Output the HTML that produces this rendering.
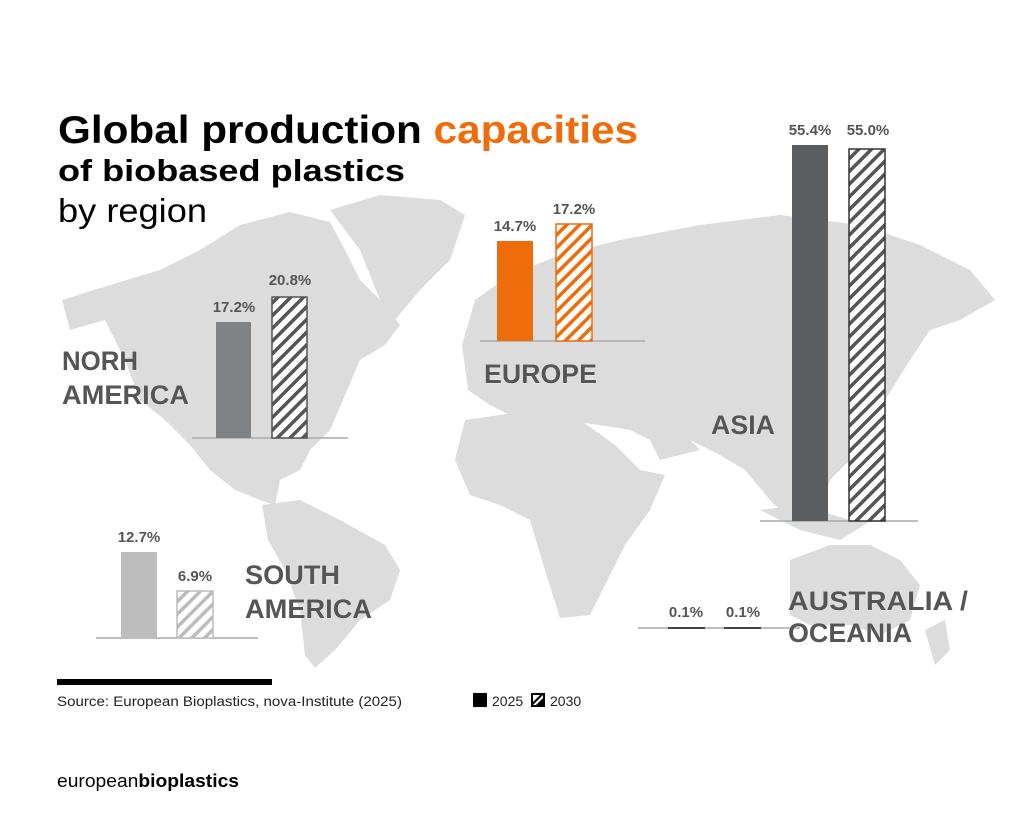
<!DOCTYPE html><html><head><meta charset="utf-8"><style>
body{margin:0;background:#fff;width:1024px;height:815px;overflow:hidden;font-family:"Liberation Sans",sans-serif}
</style></head><body>
<svg width="1024" height="815" xmlns="http://www.w3.org/2000/svg" font-family="Liberation Sans, sans-serif">
<defs>
<pattern id="hd" width="9" height="9" patternUnits="userSpaceOnUse" patternTransform="rotate(45)"><rect width="9" height="9" fill="#fff"/><rect width="3.5" height="9" fill="#555"/></pattern>
<pattern id="ho" width="9" height="9" patternUnits="userSpaceOnUse" patternTransform="rotate(45)"><rect width="9" height="9" fill="#fff"/><rect width="3.5" height="9" fill="#ee6c0a"/></pattern>
<pattern id="hl" width="9" height="9" patternUnits="userSpaceOnUse" patternTransform="rotate(45)"><rect width="9" height="9" fill="#fff"/><rect width="3.5" height="9" fill="#bbb"/></pattern>
</defs>
<g fill="#dcdcdc">
<path d="M62,300 L110,285 L160,270 L200,250 L240,225 L290,212 L330,222 L345,250 L360,280 L380,300 L400,325 L385,345 L360,360 L345,395 L330,430 L310,450 L300,470 L280,480 L275,505 L260,500 L235,490 L210,470 L190,445 L165,420 L140,400 L125,360 L105,320 L70,330 Z"/>
<path d="M330,210 L380,195 L440,200 L465,215 L450,260 L420,290 L395,320 L380,300 L360,250 Z"/>
<path d="M262,505 L300,500 L340,520 L385,545 L400,570 L390,600 L360,620 L335,650 L315,668 L305,655 L300,610 L285,570 L268,540 Z"/>
<path d="M462,345 L475,300 L510,275 L560,255 L620,240 L700,225 L780,215 L860,225 L920,245 L970,270 L995,300 L960,320 L930,330 L910,360 L885,400 L880,440 L850,460 L830,480 L820,510 L790,520 L770,500 L745,470 L720,455 L690,440 L660,445 L630,430 L600,425 L560,420 L520,420 L490,405 L468,390 Z"/>
<path d="M465,420 L520,412 L580,420 L615,445 L640,470 L665,475 L650,510 L625,545 L605,585 L590,615 L560,618 L545,570 L530,520 L500,505 L470,495 L455,460 Z"/>
<path d="M640,420 L680,430 L700,450 L660,460 Z"/>
<path d="M760,510 L800,505 L850,520 L880,515 L840,540 L800,530 Z"/>
<path d="M790,560 L830,545 L870,545 L900,560 L920,585 L910,620 L880,635 L850,625 L810,625 L790,615 Z"/>
<path d="M925,630 L945,620 L950,650 L935,665 Z"/>
</g>
<text x="58" y="143" font-size="39" font-weight="bold" fill="#000" textLength="580" lengthAdjust="spacingAndGlyphs">Global production <tspan fill="#ee6c0a">capacities</tspan></text>
<text x="58" y="181" font-size="31" font-weight="bold" fill="#000" textLength="347" lengthAdjust="spacingAndGlyphs">of biobased plastics</text>
<text x="58" y="222" font-size="33" fill="#000" textLength="149" lengthAdjust="spacingAndGlyphs">by region</text>
<g font-weight="bold" font-size="15" fill="#555" text-anchor="middle">
<text x="234" y="312">17.2%</text><text x="290" y="285">20.8%</text>
<text x="515" y="231">14.7%</text><text x="574" y="214">17.2%</text>
<text x="810" y="135">55.4%</text><text x="868" y="135">55.0%</text>
<text x="139" y="542">12.7%</text><text x="195" y="581">6.9%</text>
<text x="686" y="617">0.1%</text><text x="743" y="617">0.1%</text>
</g>
<g stroke-width="1.5">
<line x1="192" y1="438" x2="348" y2="438" stroke="#aaa"/>
<line x1="480" y1="341" x2="645" y2="341" stroke="#aaa"/>
<line x1="760" y1="521" x2="918" y2="521" stroke="#aaa"/>
<line x1="96" y1="638" x2="258" y2="638" stroke="#aaa"/>
<line x1="638" y1="628" x2="800" y2="628" stroke="#aaa"/>
</g>
<rect x="216" y="322" width="35" height="116" fill="#7f8285"/>
<rect x="272" y="297" width="35" height="141" fill="url(#hd)" stroke="#555" stroke-width="1.5"/>
<rect x="497" y="241" width="36" height="100" fill="#ee6c0a"/>
<rect x="556" y="224" width="36" height="117" fill="url(#ho)" stroke="#ee6c0a" stroke-width="1.5"/>
<rect x="792" y="145" width="36" height="376" fill="#5b5e61"/>
<rect x="849" y="149" width="36" height="372" fill="url(#hd)" stroke="#333" stroke-width="1.5"/>
<rect x="121" y="552" width="36" height="86" fill="#bdbdbd"/>
<rect x="177" y="591" width="36" height="47" fill="url(#hl)" stroke="#bbb" stroke-width="1.5"/>
<rect x="668" y="627" width="37" height="2" fill="#444"/>
<rect x="724" y="627" width="37" height="2" fill="#444"/>
<g font-weight="bold" font-size="27" fill="#555" stroke="#fff" stroke-width="0.5" paint-order="stroke">
<text x="62" y="370" textLength="76" lengthAdjust="spacingAndGlyphs">NORH</text><text x="62" y="404" textLength="127" lengthAdjust="spacingAndGlyphs">AMERICA</text>
<text x="484" y="383" textLength="113" lengthAdjust="spacingAndGlyphs">EUROPE</text>
<text x="711" y="434" textLength="64" lengthAdjust="spacingAndGlyphs">ASIA</text>
<text x="245" y="584" textLength="95" lengthAdjust="spacingAndGlyphs">SOUTH</text><text x="245" y="618" textLength="127" lengthAdjust="spacingAndGlyphs">AMERICA</text>
<text x="788" y="610" textLength="180" lengthAdjust="spacingAndGlyphs">AUSTRALIA /</text><text x="788" y="642" textLength="124" lengthAdjust="spacingAndGlyphs">OCEANIA</text>
</g>
<rect x="57" y="679" width="215" height="6" fill="#000"/>
<text x="57" y="706" font-size="14" fill="#222" textLength="345" lengthAdjust="spacingAndGlyphs">Source: European Bioplastics, nova-Institute (2025)</text>
<rect x="473" y="693" width="14" height="14" fill="#000"/>
<text x="492" y="706" font-size="14" fill="#222">2025</text>
<rect x="531" y="693" width="14" height="14" fill="#000"/>
<path d="M533,705 L543,695 L543,698 L536,705 Z M533,702 L540,695 L533,695 Z" fill="#fff"/>
<text x="550" y="706" font-size="14" fill="#222">2030</text>
<text x="57" y="787" font-size="18" fill="#000" textLength="182" lengthAdjust="spacingAndGlyphs">european<tspan font-weight="bold">bioplastics</tspan></text>
</svg>
</body></html>
